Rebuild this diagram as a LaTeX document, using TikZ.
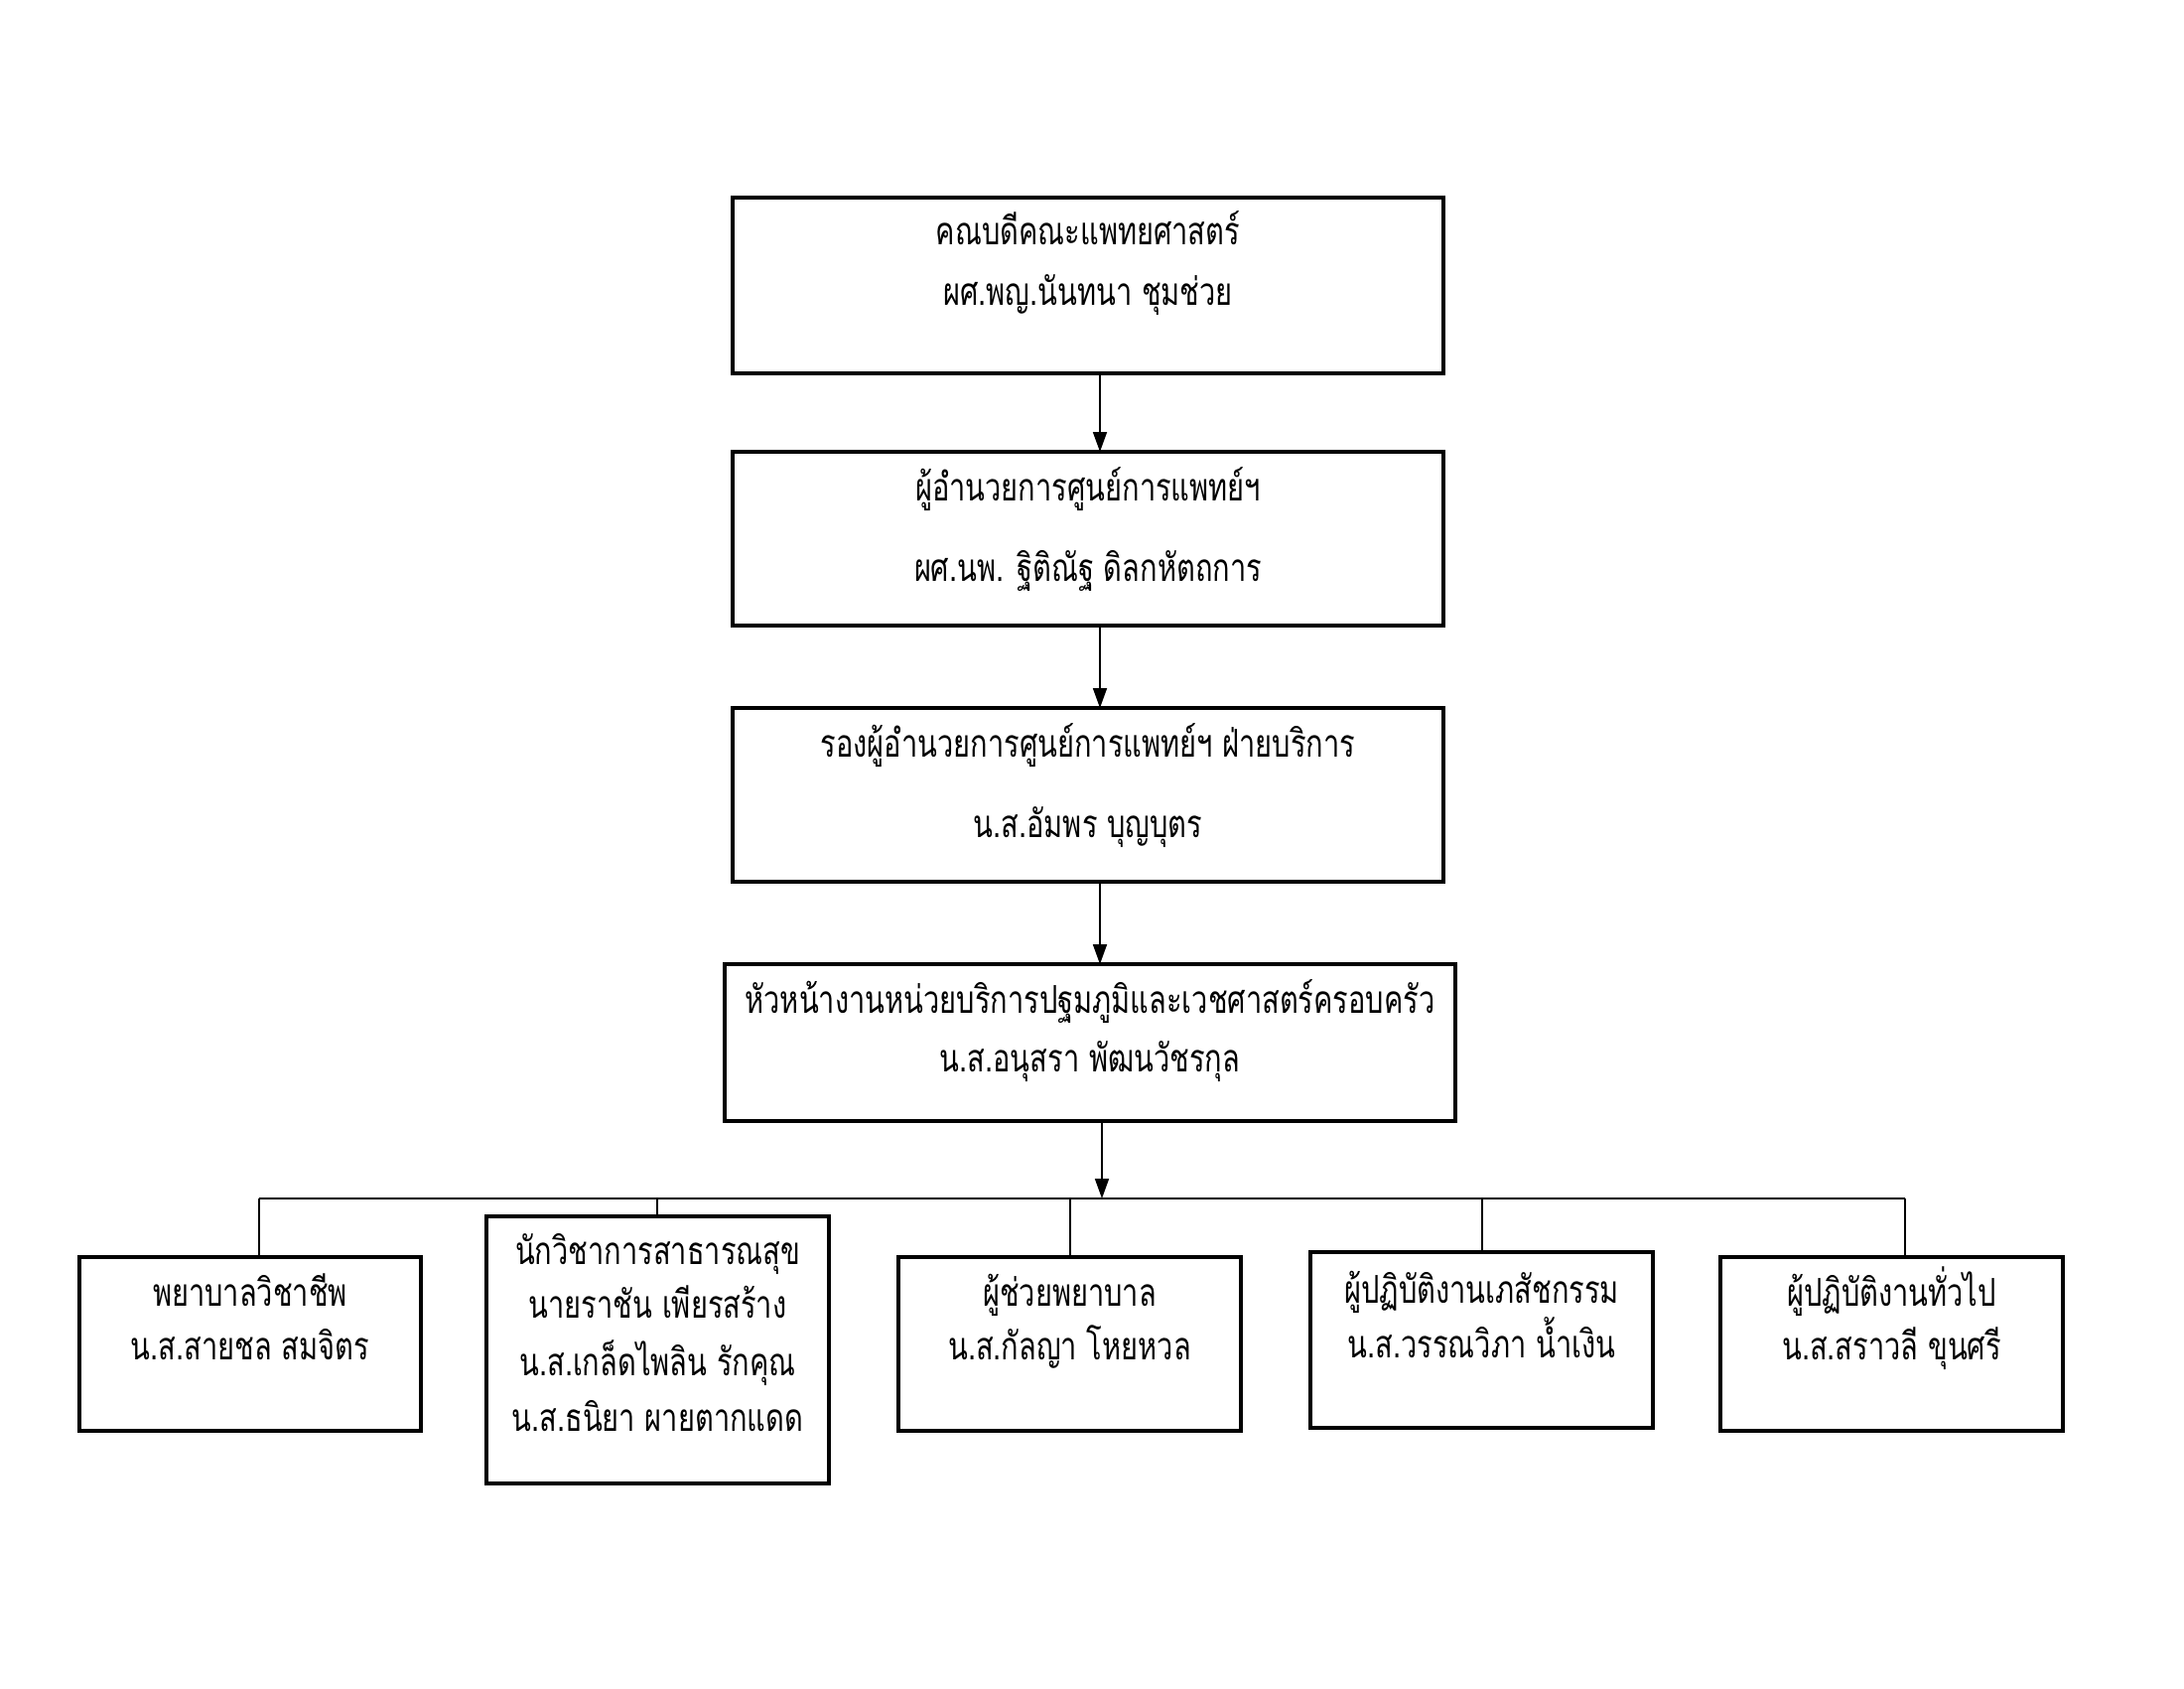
\documentclass[tikz,border=0pt]{standalone}
\usepackage{fontspec}
\newfontfamily\thaifont[Script=Thai,FakeStretch=0.75]{Loma}
\usetikzlibrary{arrows.meta}
\tikzset{
  box/.style={draw=black, line width=1pt, inner sep=0pt, outer sep=0pt, fill=white},
  txt/.style={inner sep=0pt, anchor=base, font=\thaifont\fontsize{11pt}{13pt}\selectfont},
  arr/.style={line width=0.5pt, -{Triangle[length=2mm,width=1.4mm]}},
  bus/.style={line width=0.5pt},
  drop/.style={line width=0.35pt}
}
\begin{document}
\begin{tikzpicture}[x=1cm,y=1cm]
\useasboundingbox (0,0) rectangle (22,-17);
% top chain boxes
\node[box, minimum width=7.16cm, minimum height=1.77cm] (b1) at (10.96,-2.875) {};
\node[box, minimum width=7.16cm, minimum height=1.75cm] (b2) at (10.96,-5.425) {};
\node[box, minimum width=7.16cm, minimum height=1.75cm] (b3) at (10.96,-8.005) {};
\node[box, minimum width=7.36cm, minimum height=1.58cm] (b4) at (10.98,-10.50) {};
% bottom boxes
\node[box, minimum width=3.44cm, minimum height=1.75cm] (c1) at (2.52,-13.535) {};
\node[box, minimum width=3.45cm, minimum height=2.69cm] (c2) at (6.625,-13.595) {};
\node[box, minimum width=3.45cm, minimum height=1.75cm] (c3) at (10.775,-13.535) {};
\node[box, minimum width=3.45cm, minimum height=1.77cm] (c4) at (14.925,-13.495) {};
\node[box, minimum width=3.45cm, minimum height=1.75cm] (c5) at (19.055,-13.535) {};
% texts
\node[txt] (t11) at (10.96,-2.46) {คณบดีคณะแพทยศาสตร์};
\node[txt] (t12) at (10.96,-3.07) {ผศ.พญ.นันทนา ชุมช่วย};
\node[txt] (t21) at (10.96,-5.04) {ผู้อำนวยการศูนย์การแพทย์ฯ};
\node[txt] (t22) at (10.96,-5.85) {ผศ.นพ. ฐิติณัฐ ดิลกหัตถการ};
\node[txt] (t31) at (10.96,-7.62) {รองผู้อำนวยการศูนย์การแพทย์ฯ ฝ่ายบริการ};
\node[txt] (t32) at (10.96,-8.43) {น.ส.อัมพร บุญบุตร};
\node[txt] (t41) at (10.98,-10.20) {หัวหน้างานหน่วยบริการปฐมภูมิและเวชศาสตร์ครอบครัว};
\node[txt] (t42) at (10.98,-10.79) {น.ส.อนุสรา พัฒนวัชรกุล};
\node[txt] (u11) at (2.52,-13.15) {พยาบาลวิชาชีพ};
\node[txt] (u12) at (2.52,-13.69) {น.ส.สายชล สมจิตร};
\node[txt] (u21) at (6.625,-12.73) {นักวิชาการสาธารณสุข};
\node[txt] (u22) at (6.625,-13.27) {นายราชัน เพียรสร้าง};
\node[txt] (u23) at (6.625,-13.85) {น.ส.เกล็ดไพลิน รักคุณ};
\node[txt] (u24) at (6.625,-14.41) {น.ส.ธนิยา ผายตากแดด};
\node[txt] (u31) at (10.775,-13.15) {ผู้ช่วยพยาบาล};
\node[txt] (u32) at (10.775,-13.69) {น.ส.กัลญา โหยหวล};
\node[txt] (u41) at (14.925,-13.12) {ผู้ปฏิบัติงานเภสัชกรรม};
\node[txt] (u42) at (14.925,-13.67) {น.ส.วรรณวิภา น้ำเงิน};
\node[txt] (u51) at (19.055,-13.15) {ผู้ปฏิบัติงานทั่วไป};
\node[txt] (u52) at (19.055,-13.69) {น.ส.สราวลี ขุนศรี};
% arrows in chain
\coordinate (a1) at (11.08,-3.76);
\coordinate (a2) at (11.08,-6.30);
\coordinate (a3) at (11.08,-8.88);
\coordinate (a4) at (11.10,-11.29);
\draw[arr] (a1) -- (a1 |- b2.north);
\draw[arr] (a2) -- (a2 |- b3.north);
\draw[arr] (a3) -- (a3 |- b4.north);
% bus
\coordinate (busL) at (2.61,-12.07);
\coordinate (busR) at (19.19,-12.07);
\coordinate (busM) at (11.10,-12.07);
\draw[bus] (busL) -- (busR);
\draw[arr] (a4) -- (busM);
\coordinate (d1) at (2.61,-12.07);
\coordinate (d2) at (6.62,-12.07);
\coordinate (d3) at (10.78,-12.07);
\coordinate (d4) at (14.93,-12.07);
\coordinate (d5) at (19.19,-12.07);
\draw[drop] (d1) -- (d1 |- c1.north);
\draw[drop] (d2) -- (d2 |- c2.north);
\draw[drop] (d3) -- (d3 |- c3.north);
\draw[drop] (d4) -- (d4 |- c4.north);
\draw[drop] (d5) -- (d5 |- c5.north);
\end{tikzpicture}
\end{document}
